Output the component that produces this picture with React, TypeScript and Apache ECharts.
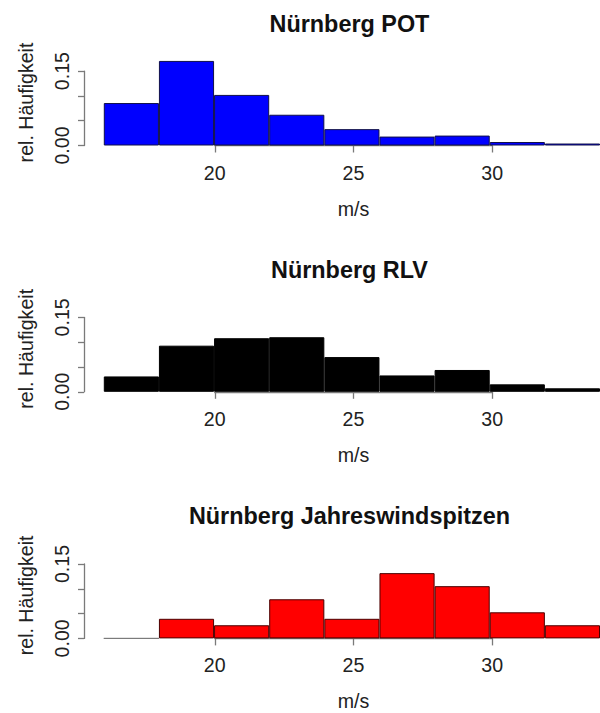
import React, { useEffect, useRef } from "react";
import * as echarts from "echarts";

// ---------- data ----------
const binLabels = ["16-18", "18-20", "20-22", "22-24", "24-26", "26-28", "28-30", "30-32", "32-34"];
const potValues = [0.0856, 0.1705, 0.102, 0.062, 0.033, 0.018, 0.02, 0.007, 0.004];
const rlvValues = [0.031, 0.093, 0.108, 0.11, 0.07, 0.033, 0.044, 0.015, 0.007];
const jwsValues = [0, 0.0395, 0.0265, 0.0789, 0.0395, 0.1316, 0.1053, 0.0526, 0.0265];
const panelTitles = ["Nürnberg POT", "Nürnberg RLV", "Nürnberg Jahreswindspitzen"];
const yLabelValues = [0, 0.15];
const xName = "m/s";
const yName = "rel. Häufigkeit";

// ---------- layout / style ----------
const FONT = "'Liberation Sans', Arial, Helvetica, sans-serif";
const panelBase = [145.5, 391.8, 638.4];
const plotH = 74.4;
const unit = 27.74;
const x16 = 103.8;
const yAxisX = 84;
const fills = ["#0000ff", "#000000", "#ff0000"];
const borders = ["#10104a", "#000000", "#4a0000"];
const axisColor = "#7a7a7a";
const textColor = "#222";
const labelSize = 19.6;
const titleSize = 23.4;

export default function App() {
  const ref = useRef<HTMLDivElement>(null);
  useEffect(() => {
    if (!ref.current) return;
    const chart = echarts.init(ref.current, null, { renderer: "svg" });
    const series = [potValues, rlvValues, jwsValues];
    const grid: any[] = [];
    const xAxis: any[] = [];
    const yAxis: any[] = [];
    const ser: any[] = [];
    const graphic: any[] = [];
    const dispLeft = x16 + 4 * unit;
    series.forEach((vals, i) => {
      const base = panelBase[i];
      grid.push({ left: x16, width: 18 * unit, top: base - plotH, height: plotH });
      grid.push({ left: dispLeft, width: 10 * unit, top: base - 86, height: 86 });
      xAxis.push({
        type: "category",
        gridIndex: 2 * i,
        data: binLabels,
        boundaryGap: true,
        show: false,
      });
      xAxis.push({
        type: "value",
        gridIndex: 2 * i + 1,
        min: 20,
        max: 30,
        interval: 5,
        offset: 3,
        axisLine: { show: true, lineStyle: { color: axisColor, width: 1.3 } },
        axisTick: { show: true, length: 7, lineStyle: { color: axisColor, width: 1.3 } },
        axisLabel: { fontSize: labelSize, color: textColor, fontFamily: FONT, margin: 14 },
        splitLine: { show: false },
        name: xName,
        nameLocation: "middle",
        nameGap: 50,
        nameTextStyle: { fontSize: labelSize, color: textColor, fontFamily: FONT },
      });
      yAxis.push({
        type: "value",
        gridIndex: 2 * i,
        min: 0,
        max: 0.15,
        interval: 0.05,
        offset: x16 - yAxisX,
        axisLine: { show: true, lineStyle: { color: axisColor, width: 1.3 } },
        axisTick: { show: true, length: 6, lineStyle: { color: axisColor, width: 1.3 } },
        axisLabel: {
          rotate: 90,
          customValues: yLabelValues,
          formatter: (v: number) => v.toFixed(2),
          fontSize: labelSize,
          color: textColor,
          fontFamily: FONT,
          margin: 12,
        },
        splitLine: { show: false },
      });
      yAxis.push({
        type: "value",
        gridIndex: 2 * i + 1,
        min: 0,
        max: 1,
        offset: dispLeft - yAxisX,
        axisLine: { show: false },
        axisTick: { show: false },
        axisLabel: { show: false },
        splitLine: { show: false },
        name: yName,
        nameLocation: "middle",
        nameRotate: 90,
        nameGap: 48,
        nameTextStyle: { fontSize: labelSize, color: textColor, fontFamily: FONT },
      });
      ser.push({
        type: "bar",
        xAxisIndex: 2 * i,
        yAxisIndex: 2 * i,
        data: vals.map((v) =>
          v === 0 ? { value: v, itemStyle: { borderColor: axisColor } } : v
        ),
        barWidth: "100%",
        barCategoryGap: 0,
        clip: false,
        itemStyle: { color: fills[i], borderColor: borders[i], borderWidth: 1 },
      });
      graphic.push({
        type: "text",
        x: x16 + 9 * unit - 4,
        y: base - 122,
        style: {
          text: panelTitles[i],
          textAlign: "center",
          textVerticalAlign: "middle",
          fontSize: titleSize,
          fontWeight: "bold",
          fontFamily: FONT,
          fill: "#111",
        },
      });
    });
    chart.setOption({
      animation: false,
      backgroundColor: "#ffffff",
      grid,
      xAxis,
      yAxis,
      series: ser,
      graphic,
    });
    return () => chart.dispose();
  }, []);
  return (
    <div style={{ position: "absolute", left: 0, top: 0, width: 600, height: 713, background: "#fff" }}>
      <div ref={ref} style={{ width: 600, height: 713 }} />
    </div>
  );
}
